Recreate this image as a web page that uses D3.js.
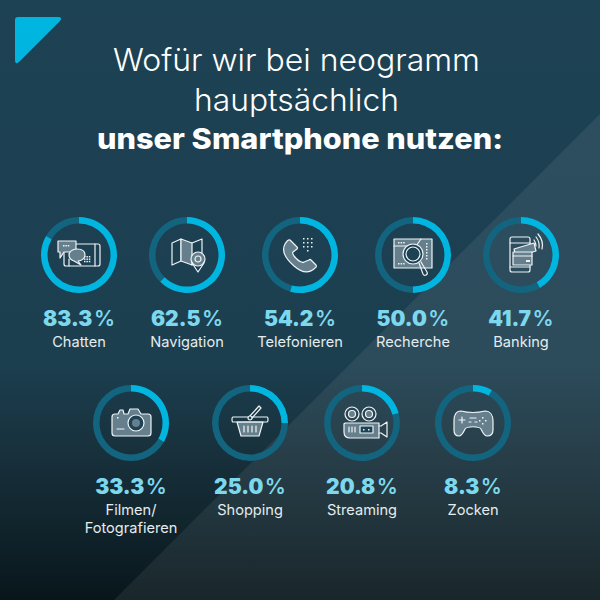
<!DOCTYPE html>
<html><head><meta charset="utf-8">
<script src="https://cdn.jsdelivr.net/npm/d3@7"></script>
<style>html,body{margin:0;padding:0;background:#1d4254}svg{display:block}text{font-family:Inter,"Noto Sans",sans-serif}</style>
</head><body><svg id="c" width="600" height="600"></svg>
<script>
// ---- data ----
const categories = ["Chatten","Navigation","Telefonieren","Recherche","Banking","Filmen/\nFotografieren","Shopping","Streaming","Zocken"];
const shares = [83.3,62.5,54.2,50.0,41.7,33.3,25.0,20.8,8.3];
const titleLines = ["Wofür wir bei neogramm","hauptsächlich","unser Smartphone nutzen:"];
const iconNames = ["chat","map","phone","search","bank","camera","basket","video","game"];

// ---- layout (kept apart from the data) ----
const centresX = [79,187,300,413,521,131,250,362,473];
const centresY = [255,255,255,255,255,423,423,423,423];
const BLUE="#00b6e0", TRACK="#13647f", VALUE="#7dd8ee", LABEL="#e4ecef", LINE="#eef3f5", FILL="#667f8c";

const svg = d3.select("#c");
const defs = svg.append("defs");
const g = defs.append("linearGradient").attr("id","bg").attr("x1",0).attr("y1",0).attr("x2",0).attr("y2",1);
[[0,"#1d4254"],[.6,"#1c3f50"],[.74,"#18323e"],[.87,"#11252d"],[1,"#08161b"]].forEach(s=>g.append("stop").attr("offset",s[0]).attr("stop-color",s[1]));
svg.append("rect").attr("width",600).attr("height",600).attr("fill","url(#bg)");
svg.append("path").attr("d","M600,114L114,600H600Z").attr("fill","#fff").attr("opacity",.07);
svg.append("path").attr("d","M18,17H58Q63,17 60,21L19,62Q15,65 15,60V20Q15,17 18,17Z").attr("fill",BLUE);

const tw=[367,205,406], tx=[296.5,296.5,300], ty=[71,111,149];
svg.selectAll("text.title").data(titleLines).join("text").attr("class","title")
 .attr("x",(d,i)=>tx[i]).attr("y",(d,i)=>ty[i]).attr("text-anchor","middle")
 .attr("font-size",(d,i)=>i==2?28:31).attr("font-weight",(d,i)=>i==2?800:300).attr("fill","#fff")
 .attr("textLength",(d,i)=>tw[i]).attr("lengthAdjust","spacingAndGlyphs").text(d=>d);

const angle = d3.scaleLinear().domain([0,100]).range([0,2*Math.PI]);
const arc = d3.arc().innerRadius(31.5).outerRadius(38);

// icon helpers: icons are decoration in local coordinates around a ring centre
const P=(s,d,fill)=>s.append("path").attr("d",d).attr("fill",fill||"none").attr("stroke",LINE).attr("stroke-width",1.2).attr("stroke-linejoin","round").attr("stroke-linecap","round");
const C=(s,x,y,r,fill)=>s.append("circle").attr("cx",x).attr("cy",y).attr("r",r).attr("fill",fill||"none").attr("stroke",LINE).attr("stroke-width",1.2);
const dots=(s,x,y,nx,ny,st)=>{for(let a=0;a<nx;a++)for(let b=0;b<ny;b++)s.append("rect").attr("x",x+a*st).attr("y",y+b*st).attr("width",1.5).attr("height",1.5).attr("fill",LINE);};
const icons={
 chat(s){P(s,"M-15,-4V9Q-15,11 -13,11H19Q21,11 21,9V-9Q21,-11 19,-11H-3");P(s,"M-10,11V4");P(s,"M16,-11V11");
  P(s,"M-21,-14H-3V-3H-15L-19,3V-3H-21Z",FILL);P(s,"M-2,-6C5,-6 6,-2 6,0C6,3 3,6 -1,6L2,10L-5,6C-8,5 -10,3 -10,0C-10,-3 -7,-6 -2,-6Z",FILL);dots(s,5,1,3,3,2.4);dots(s,-16,-10,3,1,2.4);},
 map(s){P(s,"M-15,-12L-6,-16V6L-15,10Z");P(s,"M-6,-16L5,-12V10L-6,6Z",FILL);P(s,"M5,-12L15,-16V-2M5,10L7,9");C(s,11,4,7,FILL);C(s,11,4,3);P(s,"M5,8L11,17L17,8");},
 phone(s){P(s,"M-10,-15L-3,-8Q-2,-7 -3,-6L-7,-3Q-8,-2 -6,1Q-1,7 2,7Q3,8 4,7L9,5Q10,4 11,5L16,10Q17,12 15,13C9,19 2,18 -6,11C-15,3 -19,-4 -15,-11Q-12,-16 -10,-15Z",FILL);dots(s,3,-17,3,3,4);dots(s,7,-5,1,1,1);},
 search(s){P(s,"M-19,-16H19V13H-19Z",FILL);P(s,"M-19,-9H3L8,-16");dots(s,13,-12,1,6,3);dots(s,-15,8,3,1,2.6);dots(s,-15,-13,3,1,2.6);C(s,0,-1,10,"#1d4254");C(s,0,-1,7,"#1d4254");P(s,"M6,8L10,19Q11,21 13,20T14,17L8,7");},
 bank(s){P(s,"M-9,-18H7Q9,-18 9,-16V15Q9,17 7,17H-9Q-11,17 -11,15V-16Q-11,-18 -9,-18Z");P(s,"M-11,-12H9M-11,12H9");P(s,"M-7,-6L13,-12L15,-4L-5,2Z",FILL);P(s,"M-8,-3H11V10H-8Z",FILL);P(s,"M-8,1H11",null);s.append("rect").attr("x",5).attr("y",5).attr("width",4).attr("height",2).attr("fill",LINE);
  P(s,"M13,-15Q15,-12 15,-9M15,-18Q19,-13 18,-7M17,-21Q23,-14 21,-6");},
 camera(s){P(s,"M-16,-9H-13L-11,-13H-8L-7,-9H-3L-1,-14H7L10,-9H17Q20,-9 20,-6V10Q20,13 17,13H-16Q-19,13 -19,10V-6Q-19,-9 -16,-9Z",FILL);C(s,5,0,8,"#1d4254");C(s,5,0,4,"#667f8c").attr("stroke","none");P(s,"M-14,6H-7");dots(s,-14,-6,1,1,1);},
 basket(s){P(s,"M-13,-1L-9,13H9L13,-1Z",FILL);P(s,"M-17,-6H17Q18,-6 18,-3.5T17,-1H-17Q-18,-1 -18,-3.5T-17,-6Z");P(s,"M-1,-6L9,-17L11,-15L2,-5");C(s,0,-5,2,"#1d4254");P(s,"M-6,3V9M-2,3V9M2,3V9M6,3V9");},
 video(s){C(s,-10,-9,7);C(s,-10,-9,3.5,FILL);C(s,7,-9,7);C(s,7,-9,3.5,FILL);P(s,"M-18,1Q-18,0 -16,0H17V15H-12Q-18,15 -18,9Z",FILL);P(s,"M-2,3H11V10H-2Z","#1d4254");P(s,"M17,3L19,3L25,-1V14L19,10H17");P(s,"M-13,4V9M-10,4V9M-7,4V9");dots(s,1,6,2,1,5);},
 game(s){P(s,"M-12,-12C-4,-10 4,-10 12,-12C17,-12 20,-8 20,-2V7C20,12 17,13 14,13C11,13 10,10 8,6C6,3 -6,3 -8,6C-10,10 -11,13 -14,13C-17,13 -19,12 -19,7V-2C-19,-8 -17,-12 -12,-12Z",FILL);P(s,"M-14,-3H-8M-11,-6V0");P(s,"M-3,-5H3M-4,-1H-2M2,-1H4");dots(s,9,-6,1,1,1);dots(s,12,-3,1,1,1);dots(s,6,-3,1,1,1);dots(s,9,0,1,1,1);}
};

const rows = d3.range(categories.length).map(i=>({name:categories[i],v:shares[i],icon:iconNames[i],x:centresX[i],y:centresY[i]}));
const item = svg.selectAll("g.item").data(rows).join("g").attr("class","item").attr("transform",d=>`translate(${d.x},${d.y})`);
item.append("path").attr("fill",TRACK).attr("d",d=>arc({startAngle:angle(d.v),endAngle:angle(100)}));
item.append("path").attr("fill",BLUE).attr("d",d=>arc({startAngle:0,endAngle:angle(d.v)}));
item.each(function(d){icons[d.icon](d3.select(this).append("g"));});
const val=item.append("text").attr("y",71).attr("text-anchor","middle").attr("font-size",21).attr("fill",VALUE);
val.append("tspan").attr("font-weight",900).text(d=>d.v.toFixed(1));
val.append("tspan").attr("font-weight",600).attr("dx",1.5).text("%");
item.each(function(d){
  d3.select(this).selectAll("text.lab").data(d.name.split("\n")).join("text").attr("class","lab")
   .attr("y",(t,i)=>92+i*18).attr("text-anchor","middle").attr("font-size",14.6).attr("font-weight",400).attr("fill",LABEL).text(t=>t);
});
</script></body></html>
